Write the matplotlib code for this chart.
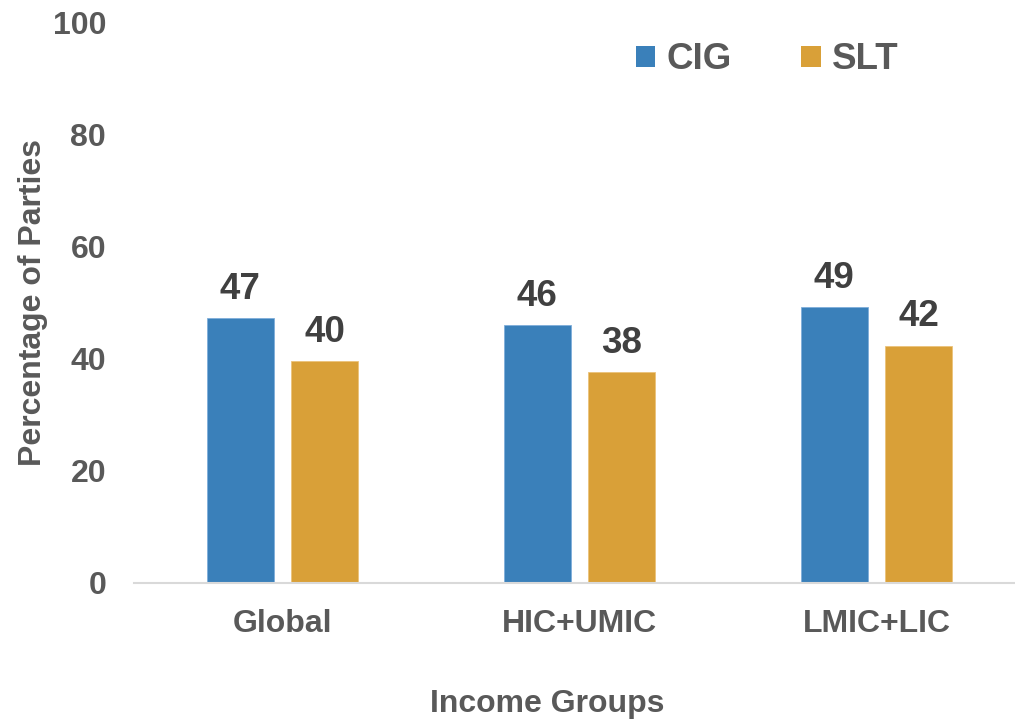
import numpy as np
import matplotlib
matplotlib.use("Agg")
import matplotlib.pyplot as plt
from matplotlib.patches import Patch

groups = ['Global', 'HIC+UMIC', 'LMIC+LIC']
cig = [47.3, 46.1, 49.2]
slt = [39.6, 37.6, 42.4]
series_names = ['CIG', 'SLT']

plt.rcParams['font.family'] = ['Liberation Sans', 'DejaVu Sans']
plt.rcParams['font.weight'] = 'bold'

blue = '#3A80BA'
gold = '#D9A038'
grey = '#595959'
dark = '#404040'

fig = plt.figure(figsize=(10.15, 7.19), dpi=100)
ax = fig.add_axes([134/1015, 136/719, 881/1015, 560/719])

x = np.arange(len(groups))
w = 0.2256
off = 0.143

b1 = ax.bar(x - off, cig, w, color=blue, edgecolor='#7FAEDA', linewidth=0.6)
b2 = ax.bar(x + off, slt, w, color=gold, edgecolor='#EBC27A', linewidth=0.6)

for bars in (b1, b2):
    ax.bar_label(bars, labels=[str(int(round(v))) for v in bars.datavalues],
                 padding=8, fontsize=26.5, fontweight='bold', color=dark)

ax.set_ylim(0, 100)
ax.set_xlim(-0.5, -0.5 + 881/297)
ax.set_yticks([0, 20, 40, 60, 80, 100])
ax.set_xticks(x)
ax.set_xticklabels(groups)

for s in ['top', 'right', 'left']:
    ax.spines[s].set_visible(False)
ax.spines['bottom'].set_color('#D9D9D9')
ax.spines['bottom'].set_linewidth(1.5)

ax.tick_params(axis='y', length=0, pad=20, labelsize=23, labelcolor=grey)
ax.tick_params(axis='x', length=0, pad=19, labelsize=23, labelcolor=grey)

ax.set_ylabel('Percentage of Parties', fontsize=23, color=grey, fontweight='bold')
ax.yaxis.set_label_coords(-0.098, 0.5)
ax.set_xlabel('Income Groups', fontsize=23, color=grey, fontweight='bold')
ax.xaxis.set_label_coords((547 - 134) / 881, -0.19)

handles = [Patch(facecolor=blue), Patch(facecolor=gold)]
ax.legend(handles, series_names, ncol=2, loc='center left',
          bbox_to_anchor=((603 - 134) / 881, 0.934), frameon=False,
          handlelength=0.52, handleheight=0.52,
          handletextpad=0.3, columnspacing=1.9, labelcolor=grey,
          prop={'weight': 'bold', 'size': 26.5})

fig.savefig('out.png', dpi=100)
